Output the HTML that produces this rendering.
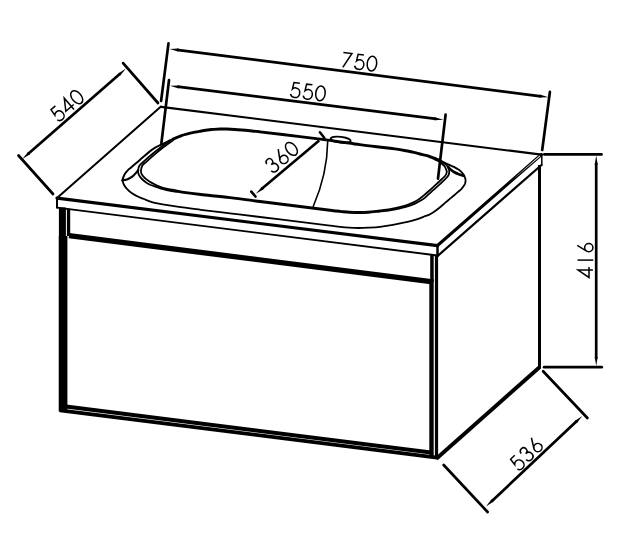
<!DOCTYPE html>
<html>
<head>
<meta charset="utf-8">
<title>Vanity unit dimensions</title>
<style>
html,body{margin:0;padding:0;background:#fff;}
body{width:640px;height:541px;overflow:hidden;font-family:"Liberation Sans",sans-serif;}
svg{display:block;}
</style>
</head>
<body>
<svg width="640" height="541" viewBox="0 0 640 541">
<rect width="640" height="541" fill="#fff"/>

<!-- ================= cabinet body ================= -->
<g id="body" stroke="#000" fill="none" stroke-linecap="butt">
  <rect x="58.9" y="207.5" width="7" height="204" fill="#000" stroke="none"/>
  <rect x="66.9" y="208.7" width="3.3" height="27.3" fill="#000" stroke="none"/>
  <rect x="58.8" y="236" width="8.6" height="175.5" fill="#000" stroke="none"/>
  <line x1="69" y1="235.7" x2="431" y2="281.6" stroke-width="5.3"/>
  <line x1="66" y1="406.6" x2="431" y2="452.4" stroke-width="4"/>
  <line x1="60" y1="410.3" x2="437" y2="457.6" stroke-width="3.7"/>
  <rect x="430.2" y="254" width="3.5" height="28" fill="#000" stroke="none"/><rect x="429.3" y="279" width="4.4" height="177.5" fill="#000" stroke="none"/>
  <rect x="434.9" y="255" width="3.2" height="204" fill="#000" stroke="none"/>
  <line x1="539.5" y1="165" x2="539.5" y2="368" stroke-width="3"/>
  <line x1="436.3" y1="458.8" x2="539.8" y2="367" stroke-width="3.9"/>
</g>

<!-- ================= countertop ================= -->
<g id="top" stroke="#000" fill="none" stroke-linecap="round" stroke-linejoin="round">
  <line x1="57" y1="198" x2="161" y2="106.6" stroke-width="2"/>
  <line x1="161" y1="106.8" x2="541.5" y2="154.7" stroke-width="2.2"/>
  <line x1="541.5" y1="154.5" x2="437.5" y2="245.5" stroke-width="3"/>
  <line x1="57" y1="198.2" x2="437.5" y2="245.6" stroke-width="3.2"/>
  <line x1="57" y1="198" x2="57" y2="207.6" stroke-width="2"/>
  <line x1="57" y1="207.6" x2="437.5" y2="255.5" stroke-width="1.9"/>
  <line x1="437.5" y1="245.5" x2="437.5" y2="255.8" stroke-width="2.5"/>
  <line x1="437.8" y1="255.8" x2="541.5" y2="165" stroke-width="2.2"/>
  <line x1="541.8" y1="154.5" x2="541.8" y2="165" stroke-width="1.5"/>
  <path d="M540.3,156.2 L539.7,155.4 L510,182 Z" fill="#fff" stroke="none"/>
</g>

<!-- ================= basin ================= -->
<g id="basin" stroke="#000" fill="none" stroke-linecap="round" stroke-linejoin="round">
  <path stroke-width="1.8" d="M171.2,139.8 C172.2,139.2 172.4,138.7 173.9,138.0 C175.4,137.3 178.1,136.2 180.2,135.5 C182.3,134.8 183.9,134.2 186.4,133.6 C188.9,132.9 192.5,132.1 195.0,131.6 C197.5,131.1 199.2,130.8 201.3,130.4 C203.4,130.0 205.5,129.7 207.6,129.4 C209.7,129.1 211.8,129.0 213.9,128.8 C216.0,128.7 218.1,128.6 220.2,128.5 C222.3,128.4 223.9,128.4 226.4,128.5 C228.9,128.6 231.1,128.7 235.0,129.0 C238.9,129.3 245.8,129.8 250.0,130.2 C254.2,130.6 251.7,130.3 260.0,131.3 C268.3,132.3 288.3,134.7 300.0,136.1 C311.7,137.5 320.0,138.5 330.0,139.8 C340.0,141.1 351.1,142.9 360.0,144.1 C368.9,145.3 377.8,146.2 383.6,146.9 C389.4,147.6 392.1,147.9 395.0,148.3 C397.9,148.7 399.2,148.9 401.3,149.3 C403.4,149.7 405.5,150.1 407.6,150.5 C409.7,150.9 411.8,151.3 413.9,151.8 C416.0,152.3 418.1,152.9 420.2,153.4 C422.3,153.9 424.5,154.4 426.4,154.9 C428.3,155.4 430.1,156.0 431.5,156.5 C432.9,157.0 433.7,157.3 435.0,157.9 C436.3,158.5 438.1,159.3 439.5,160.1 C440.9,160.9 442.1,161.6 443.3,162.5 C444.6,163.4 446.1,164.5 447.0,165.7 C447.9,166.8 448.5,168.2 448.9,169.4 C449.3,170.6 449.3,171.5 449.2,172.6 C449.1,173.7 448.9,174.7 448.0,176.0 C447.1,177.3 445.4,178.9 443.9,180.4 C442.4,181.9 440.6,183.7 438.9,185.2 C437.2,186.7 435.4,188.2 433.8,189.6 C432.2,191.0 430.9,192.3 429.4,193.6 C427.9,194.9 426.4,196.4 425.0,197.6 C423.6,198.8 422.4,199.6 420.8,200.6 C419.2,201.6 417.4,202.5 415.5,203.4 C413.6,204.3 411.2,205.2 409.1,205.9 C407.0,206.6 404.8,207.1 402.7,207.7 C400.6,208.2 398.4,208.8 396.3,209.2 C394.2,209.6 392.7,209.9 390.0,210.3 C387.3,210.7 383.6,211.1 380.0,211.5 C376.4,211.9 371.8,212.5 368.3,212.8 C364.8,213.1 362.0,213.1 358.9,213.1 C355.8,213.1 352.5,213.0 349.4,212.8 C346.2,212.6 343.2,212.2 340.0,211.9 C336.8,211.6 336.7,211.6 330.0,210.8 C323.3,210.0 311.7,208.5 300.0,207.0 C288.3,205.5 271.7,203.5 260.0,202.0 C248.3,200.5 239.9,199.3 230.0,198.2 C220.1,197.0 208.8,196.0 200.8,195.1 C192.8,194.2 186.2,193.3 181.9,192.7 C177.6,192.1 177.6,192.0 175.0,191.6 C172.4,191.2 168.9,190.5 166.4,190.0 C163.9,189.5 162.3,189.0 160.2,188.4 C158.1,187.8 156.0,187.0 153.9,186.2 C151.8,185.4 149.6,184.6 147.6,183.4 C145.6,182.2 143.4,180.5 141.9,179.0 C140.4,177.5 139.4,176.1 138.8,174.6 C138.2,173.1 138.0,171.7 138.1,170.2 C138.2,168.7 138.6,167.0 139.5,165.6 C140.4,164.2 142.3,162.9 143.8,161.5 C145.3,160.1 147.1,158.4 148.5,157.2 C149.9,156.0 150.4,155.5 152.0,154.2 C153.6,152.9 156.2,150.8 158.3,149.2 C160.4,147.6 163.0,145.6 164.6,144.4 C166.2,143.2 166.9,142.7 168.0,141.9 C169.1,141.1 170.2,140.5 171.2,139.8Z"/>
  <path stroke-width="1.8" d="M171.8,141.3 C172.9,140.5 172.9,140.0 174.3,139.2 C175.8,138.4 178.4,137.3 180.5,136.6 C182.6,135.8 184.2,135.3 186.6,134.7 C189.0,134.0 192.6,133.2 195.1,132.7 C197.6,132.2 199.3,131.9 201.4,131.5 C203.5,131.1 205.6,130.8 207.7,130.5 C209.8,130.2 211.8,130.1 213.9,129.9 C216.0,129.8 218.1,129.7 220.2,129.6 C222.3,129.5 223.9,129.5 226.4,129.6 C228.9,129.7 231.0,129.8 234.9,130.1 C238.8,130.4 245.7,130.9 249.9,131.3 C254.1,131.7 251.6,131.4 259.9,132.4 C268.2,133.4 288.2,135.8 299.9,137.2 C311.6,138.6 319.9,139.6 329.9,140.9 C339.9,142.2 351.0,144.0 359.9,145.2 C368.8,146.4 377.7,147.3 383.5,148.0 C389.3,148.7 392.0,149.0 394.9,149.4 C397.8,149.8 399.0,150.0 401.1,150.4 C403.2,150.8 405.3,151.2 407.4,151.6 C409.5,152.0 411.6,152.4 413.7,152.9 C415.8,153.4 417.8,154.0 419.9,154.5 C421.9,155.0 424.1,155.5 426.0,156.0 C427.9,156.5 429.6,157.2 431.0,157.7 C432.4,158.2 433.3,158.7 434.4,159.2 C435.5,159.7 436.7,160.2 437.8,160.8 C438.9,161.4 439.7,161.9 440.8,162.8 C441.9,163.7 443.6,165.1 444.5,166.3 C445.4,167.5 446.0,169.1 446.4,170.1 C446.8,171.1 446.9,171.7 446.7,172.6 C446.5,173.5 446.1,174.5 445.2,175.7 C444.3,176.8 442.9,178.1 441.4,179.5 C439.9,180.9 438.1,182.6 436.4,184.2 C434.7,185.8 433.0,187.4 431.3,188.9 C429.6,190.4 427.8,192.0 426.3,193.3 C424.8,194.6 423.7,195.5 422.5,196.5 C421.3,197.5 420.2,198.3 419.0,199.2 C417.8,200.0 416.7,200.8 415.0,201.6 C413.3,202.4 410.8,203.5 408.7,204.3 C406.6,205.1 404.5,205.7 402.4,206.3 C400.3,206.9 398.3,207.4 396.2,207.9 C394.1,208.4 392.7,208.8 390.0,209.2 C387.3,209.6 383.6,210.0 380.0,210.4 C376.4,210.8 371.8,211.4 368.3,211.7 C364.8,212.0 362.0,212.0 358.9,212.0 C355.8,212.0 352.5,211.9 349.4,211.7 C346.3,211.5 343.3,211.1 340.1,210.8 C336.9,210.5 336.8,210.5 330.1,209.7 C323.4,208.9 311.8,207.4 300.1,205.9 C288.4,204.4 271.8,202.4 260.1,200.9 C248.4,199.4 240.0,198.2 230.1,197.1 C220.2,195.9 208.9,194.9 200.9,194.0 C192.9,193.1 186.3,192.2 182.0,191.6 C177.7,191.0 177.6,190.7 175.0,190.2 C172.4,189.7 168.9,189.2 166.4,188.6 C163.9,188.0 162.1,187.5 160.2,186.8 C158.3,186.1 156.9,185.5 155.1,184.6 C153.3,183.7 151.3,182.7 149.5,181.5 C147.7,180.3 145.7,179.0 144.4,177.7 C143.1,176.4 142.2,175.2 141.6,173.9 C141.0,172.7 140.9,171.6 141.0,170.2 C141.1,168.8 141.5,167.0 142.4,165.6 C143.3,164.2 144.2,163.7 146.6,161.6 C148.9,159.5 153.8,155.2 156.5,152.9 C159.2,150.6 161.1,149.0 163.0,147.5 C164.9,146.0 166.3,144.9 167.8,143.9 C169.3,142.9 170.7,142.1 171.8,141.3Z"/>
  <path stroke-width="1.8" d="M435.0,158.1 C436.1,158.6 439.2,160.0 441.3,161.0 C443.4,162.0 445.5,163.1 447.6,164.1 C449.7,165.1 452.0,165.9 453.9,166.9 C455.8,167.9 457.5,168.9 458.9,169.8 C460.2,170.8 461.1,171.6 462.0,172.6 C462.9,173.6 463.6,174.7 464.2,175.8 C464.8,177.0 465.3,178.2 465.5,179.5 C465.7,180.8 465.4,182.3 465.2,183.3 C464.9,184.3 464.6,184.7 464.0,185.6 C463.4,186.5 462.6,187.7 461.5,188.8 C460.4,189.9 459.4,190.7 457.7,192.2 C456.0,193.7 453.5,195.8 451.4,197.6 C449.3,199.4 447.2,201.1 445.1,202.9 C443.0,204.7 440.7,206.8 438.8,208.3 C436.9,209.8 435.5,210.9 433.8,212.0 C432.1,213.1 430.3,214.2 428.8,214.9 C427.3,215.6 426.8,215.4 425.0,216.1 C423.2,216.8 421.0,218.0 418.3,218.9 C415.6,219.8 412.8,220.7 408.6,221.7 C404.4,222.7 397.7,224.0 392.9,224.8 C388.1,225.7 384.1,226.3 380.0,226.8 C375.9,227.3 371.5,227.5 368.0,227.7 C364.5,227.9 362.1,228.0 358.9,228.0 C355.7,228.0 352.1,227.9 349.0,227.7 C345.9,227.5 343.2,227.2 340.0,226.8 C336.8,226.5 336.7,226.4 330.0,225.6 C323.3,224.8 311.7,223.3 300.0,221.9 C288.3,220.5 271.7,218.4 260.0,217.0 C248.3,215.6 239.9,214.5 230.0,213.3 C220.1,212.1 209.6,210.9 200.8,209.8 C192.0,208.7 185.1,207.9 177.2,206.7 C169.3,205.5 159.1,203.9 153.6,202.6 C148.1,201.3 146.4,200.0 143.9,199.0 C141.4,198.0 140.3,197.8 138.3,196.8 C136.3,195.9 133.9,194.6 132.0,193.3 C130.1,192.0 128.3,190.4 126.9,188.9 C125.5,187.4 124.5,185.9 123.8,184.5 C123.1,183.1 122.7,181.1 122.5,180.4"/>
  <path stroke-width="2.0" d="M122.5,180.4 C122.6,179.9 122.8,178.8 123.2,177.6 C123.6,176.4 124.2,174.8 125.1,173.5 C126.0,172.2 127.5,170.5 128.4,169.6 C129.3,168.7 129.2,169.0 130.5,167.9 C131.8,166.8 134.3,164.7 136.3,163.0 C138.3,161.3 140.5,159.3 142.6,157.5 C144.7,155.7 146.8,153.8 148.9,152.1 C151.0,150.4 153.4,148.7 155.2,147.6 C157.0,146.5 158.1,146.1 159.6,145.4 C161.1,144.7 162.3,144.3 164.0,143.5 C165.7,142.7 169.0,140.8 170.0,140.3"/>
  <path stroke-width="2.1" d="M122.5,180.4 C123.3,180.2 125.9,179.9 127.6,179.2 C129.3,178.5 131.1,177.4 132.6,176.3 C134.1,175.2 135.4,173.6 136.4,172.5 C137.4,171.4 138.0,170.4 138.3,170.0"/>
  <path stroke-width="2.6" d="M448.3,167.0 C448.5,167.2 448.6,167.7 449.5,168.5 C450.4,169.3 452.3,171.1 453.9,172.0 C455.5,172.9 457.2,173.6 458.9,174.2 C460.6,174.8 463.1,175.5 463.9,175.8"/>
  <path stroke-width="1.6" d="M327.7,141.2 C327.4,163 322.5,185 313.3,206.3"/>
  <ellipse cx="340.7" cy="139.8" rx="10" ry="2.9" transform="rotate(7 340.7 139.8)" stroke-width="1.9"/>
</g>

<!-- ================= dimensions ================= -->
<g id="dims" stroke="#000" fill="#000" stroke-width="2.7" stroke-linecap="round">
  <line x1="123.1" y1="63.1" x2="158.0" y2="103.0"/>
  <line x1="18.5" y1="155.5" x2="53.0" y2="194.0"/>
  <line x1="120.3" y1="73.5" x2="28.0" y2="154.1" stroke-linecap="butt"/><path stroke="none" d="M126.0,68.6 L118.2,73.4 L120.2,75.6 Z"/><path stroke="none" d="M22.3,159.0 L28.1,152.0 L30.1,154.2 Z"/>
  <line x1="168.5" y1="43.3" x2="161.1" y2="100.9"/>
  <line x1="549.9" y1="91.9" x2="542.2" y2="150.0"/>
  <line x1="176.9" y1="49.9" x2="541.1" y2="96.3" stroke-linecap="butt"/><path stroke="none" d="M169.5,49.0 L178.2,51.6 L178.6,48.6 Z"/><path stroke="none" d="M548.5,97.2 L539.4,97.6 L539.8,94.6 Z"/>
  <line x1="169.0" y1="80.2" x2="161.4" y2="143.1"/>
  <line x1="445.6" y1="114.6" x2="438.0" y2="178.7"/>
  <line x1="177.4" y1="86.7" x2="436.1" y2="118.9" stroke-linecap="butt"/><path stroke="none" d="M170.0,85.8 L178.7,88.4 L179.1,85.4 Z"/><path stroke="none" d="M443.5,119.8 L434.4,120.2 L434.8,117.2 Z"/>
  <line x1="319.2" y1="140.6" x2="261.5" y2="189.0" stroke-linecap="butt" stroke-width="2.6"/><path stroke="none" d="M255.8,193.8 L261.7,186.9 L263.7,189.2 Z"/>
  <line x1="319.9" y1="132.2" x2="324.4" y2="138.0" stroke-width="2.5"/>
  <line x1="251.3" y1="191.6" x2="255.5" y2="196.5" stroke-width="2.6"/>
  <line x1="544.3" y1="154.4" x2="601.5" y2="154.4"/>
  <line x1="544.1" y1="367.2" x2="601.7" y2="367.2"/>
  <line x1="596.2" y1="163.1" x2="596.2" y2="358.5" stroke-linecap="butt"/><path stroke="none" d="M596.2,155.6 L594.7,164.6 L597.7,164.6 Z"/><path stroke="none" d="M596.2,366.0 L594.7,357.0 L597.7,357.0 Z"/>
  <line x1="543.1" y1="371.2" x2="587.4" y2="418.0"/>
  <line x1="443.7" y1="465.0" x2="487.6" y2="512.0"/>
  <line x1="491.5" y1="501.5" x2="576.8" y2="421.1" stroke-linecap="butt"/><path stroke="none" d="M486.0,506.6 L493.6,501.5 L491.5,499.3 Z"/><path stroke="none" d="M582.3,416.0 L576.8,423.3 L574.7,421.1 Z"/>
</g>

<!-- ================= numerals ================= -->
<g id="nums" stroke="#000" fill="none" stroke-width="1.42" stroke-linecap="butt" stroke-linejoin="miter">
  <g transform="translate(67.3,105.4) rotate(-41) scale(1.06) translate(-16.5,7)"><g transform="translate(0,0)"><path d="M7.7,-14 H2.2 L1.5,-7.7 C2.4,-8.7 3.6,-9.2 4.7,-9.2 C7.2,-9.2 8.8,-7.1 8.8,-4.6 C8.8,-2 7,0 4.5,0 C2.5,0 0.9,-1.2 0.3,-2.9"/></g><g transform="translate(11.6,0)"><path d="M7.2,0 V-14 L0.2,-3.7 H10"/></g><g transform="translate(23.8,0)"><ellipse cx="4.45" cy="-7" rx="4.45" ry="7"/></g></g>
  <g transform="translate(359.6,62) rotate(7.3) scale(1.06) translate(-16.5,7)"><g transform="translate(0,0)"><path d="M0.2,-14 H8.3 L1.4,0"/></g><g transform="translate(12,0)"><path d="M7.7,-14 H2.2 L1.5,-7.7 C2.4,-8.7 3.6,-9.2 4.7,-9.2 C7.2,-9.2 8.8,-7.1 8.8,-4.6 C8.8,-2 7,0 4.5,0 C2.5,0 0.9,-1.2 0.3,-2.9"/></g><g transform="translate(23.8,0)"><ellipse cx="4.45" cy="-7" rx="4.45" ry="7"/></g></g>
  <g transform="translate(308.1,91.8) rotate(7.3) scale(1.06) translate(-16.5,7)"><g transform="translate(0,0)"><path d="M7.7,-14 H2.2 L1.5,-7.7 C2.4,-8.7 3.6,-9.2 4.7,-9.2 C7.2,-9.2 8.8,-7.1 8.8,-4.6 C8.8,-2 7,0 4.5,0 C2.5,0 0.9,-1.2 0.3,-2.9"/></g><g transform="translate(12,0)"><path d="M7.7,-14 H2.2 L1.5,-7.7 C2.4,-8.7 3.6,-9.2 4.7,-9.2 C7.2,-9.2 8.8,-7.1 8.8,-4.6 C8.8,-2 7,0 4.5,0 C2.5,0 0.9,-1.2 0.3,-2.9"/></g><g transform="translate(23.8,0)"><ellipse cx="4.45" cy="-7" rx="4.45" ry="7"/></g></g>
  <g transform="translate(281.9,156.9) rotate(-40) scale(1.06) translate(-16.5,7)"><g transform="translate(0,0)"><path d="M1.2,-11 C1.4,-12.8 2.7,-14 4.4,-14 C6.2,-14 7.5,-12.7 7.5,-10.9 C7.5,-9 6.1,-7.8 4.1,-7.8 C6.6,-7.8 8.3,-6.2 8.3,-3.9 C8.3,-1.6 6.6,0 4.3,0 C2.2,0 0.6,-1.4 0.4,-3.5"/></g><g transform="translate(12,0)"><path d="M6.5,-14.8 L1.1,-5.9"/><circle cx="4.4" cy="-3.9" r="3.9"/></g><g transform="translate(23.8,0)"><ellipse cx="4.45" cy="-7" rx="4.45" ry="7"/></g></g>
  <g transform="translate(585.5,260.2) rotate(-90) scale(1.06) translate(-16.5,7)"><g transform="translate(0,0)"><path d="M7.2,0 V-14 L0.2,-3.7 H10"/></g><g transform="translate(12,0)"><path d="M4.6,0.3 V-14.5"/></g><g transform="translate(24,0)"><path d="M6.5,-14.8 L1.1,-5.9"/><circle cx="4.4" cy="-3.9" r="3.9"/></g></g>
  <g transform="translate(526.6,454) rotate(-44.4) scale(1.06) translate(-16.5,7)"><g transform="translate(0,0)"><path d="M7.7,-14 H2.2 L1.5,-7.7 C2.4,-8.7 3.6,-9.2 4.7,-9.2 C7.2,-9.2 8.8,-7.1 8.8,-4.6 C8.8,-2 7,0 4.5,0 C2.5,0 0.9,-1.2 0.3,-2.9"/></g><g transform="translate(12,0)"><path d="M1.2,-11 C1.4,-12.8 2.7,-14 4.4,-14 C6.2,-14 7.5,-12.7 7.5,-10.9 C7.5,-9 6.1,-7.8 4.1,-7.8 C6.6,-7.8 8.3,-6.2 8.3,-3.9 C8.3,-1.6 6.6,0 4.3,0 C2.2,0 0.6,-1.4 0.4,-3.5"/></g><g transform="translate(24,0)"><path d="M6.5,-14.8 L1.1,-5.9"/><circle cx="4.4" cy="-3.9" r="3.9"/></g></g>
</g>
</svg>
</body>
</html>
